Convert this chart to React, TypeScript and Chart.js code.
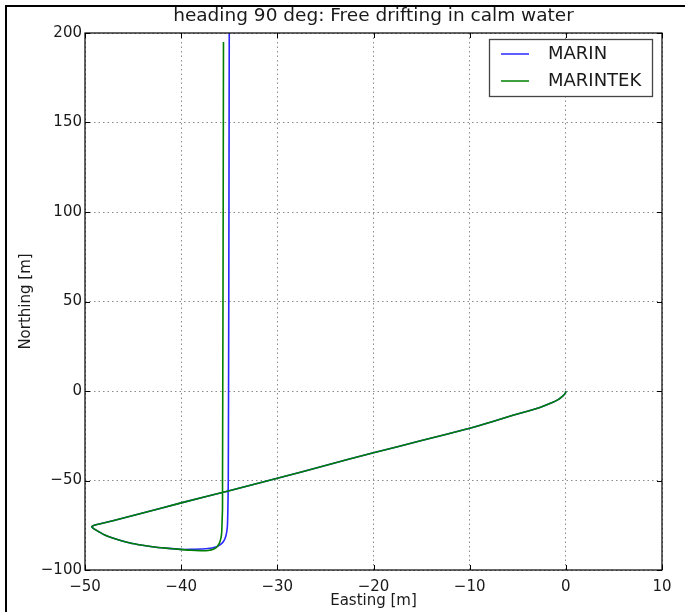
import React, { useEffect, useRef } from "react";
import { Chart, registerables } from "chart.js";

Chart.register(...registerables);

const TITLE = "heading 90 deg: Free drifting in calm water";
const X_LABEL = "Easting [m]";
const Y_LABEL = "Northing [m]";
const SERIES_NAMES = ["MARIN", "MARINTEK"];
const SERIES_COLORS = ["rgb(40,40,255)", "rgb(0,128,0)"];
const X_TICKS = [-50, -40, -30, -20, -10, 0, 10];
const Y_TICKS = [-100, -50, 0, 50, 100, 150, 200];

// Common part of both tracks: from the release point down the diagonal,
// round the western tip and back east along the southern edge.
const SHARED_E = [
  0, -0.05, -0.3, -0.8, -1.6, -2.7, -4, -5.5, -7.5, -10, -15, -20, -25, -30, -35, -40,
  -44, -47, -48.5, -49.1, -49.3, -49.1, -48.6, -48.0, -47.2, -46.3, -45.3, -44.2, -43.0, -41.6, -40.1,
];
const SHARED_N = [
  0, -1.2, -2.7, -4.8, -6.9, -9.2, -11.3, -13.6, -16.9, -20.8, -27.7, -34.5, -41.6, -48.8, -55.7, -62.5,
  -68.2, -72.3, -74.3, -75.1, -75.9, -76.9, -78.5, -80.3, -82.0, -83.5, -84.9, -86.0, -87.0, -87.8, -88.5,
];

// MARIN: final turn and northward drift
const MARIN_E = [-39, -38, -37.2, -36.5, -36, -35.6, -35.35, -35.2, -35.15, -35.1, -35.05, -35.0];
const MARIN_N = [-88.5, -88.3, -88.0, -87.3, -86.1, -84.1, -81, -76, -68, -50, 50, 200];

// MARINTEK: final turn and northward drift
const MARINTEK_E = [-39, -38, -37.2, -36.6, -36.2, -35.95, -35.8, -35.75, -35.7, -35.7, -35.65, -35.6];
const MARINTEK_N = [-89.0, -89.2, -89.1, -88.3, -86.6, -84, -80, -74, -65, -50, 50, 195];

const FONT = "'DejaVu Sans', sans-serif";
const TEXT_COLOR = "#1a1a1a";

function track(e: number[], n: number[]) {
  const pts = SHARED_E.map((x, i) => ({ x, y: SHARED_N[i] }));
  return pts.concat(e.map((x, i) => ({ x, y: n[i] })));
}

const minus = (v: number) => String(v).replace("-", "\u2212");

// Page frame, title, axes frame, inward tick marks and the legend box
const framePlugin = {
  id: "frameAndLegend",
  beforeDraw(chart: any) {
    const { ctx, width, height } = chart;
    ctx.save();
    ctx.fillStyle = "#fff";
    ctx.fillRect(0, 0, width, height);
    ctx.fillStyle = "#000";
    ctx.fillRect(5, 5, width - 5, 2);
    ctx.fillRect(5, 5, 2, height - 5);
    ctx.restore();
  },
  afterDatasetsDraw(chart: any) {
    const { ctx, chartArea: a, scales } = chart;
    const xs = scales.x;
    const ys = scales.y;
    ctx.save();

    ctx.fillStyle = TEXT_COLOR;
    ctx.font = `18.5px ${FONT}`;
    ctx.textAlign = "center";
    ctx.textBaseline = "alphabetic";
    ctx.fillText(TITLE, (a.left + a.right) / 2, 21);

    ctx.strokeStyle = "#000";
    ctx.lineWidth = 1.2;
    ctx.strokeRect(a.left, a.top, a.right - a.left, a.bottom - a.top);

    const tl = 5;
    ctx.lineWidth = 1;
    ctx.beginPath();
    X_TICKS.forEach((v) => {
      const px = Math.round(xs.getPixelForValue(v)) + 0.5;
      ctx.moveTo(px, a.bottom);
      ctx.lineTo(px, a.bottom - tl);
      ctx.moveTo(px, a.top);
      ctx.lineTo(px, a.top + tl);
    });
    Y_TICKS.forEach((v) => {
      const py = Math.round(ys.getPixelForValue(v)) + 0.5;
      ctx.moveTo(a.left, py);
      ctx.lineTo(a.left + tl, py);
      ctx.moveTo(a.right, py);
      ctx.lineTo(a.right - tl, py);
    });
    ctx.stroke();

    // legend
    const bx = 489.5;
    const by = 39.5;
    const bw = 163;
    const bh = 57;
    ctx.fillStyle = "#fff";
    ctx.fillRect(bx, by, bw, bh);
    ctx.strokeStyle = "#444";
    ctx.lineWidth = 1.3;
    ctx.strokeRect(bx, by, bw, bh);
    const rows = [54, 81];
    SERIES_NAMES.forEach((name, i) => {
      ctx.strokeStyle = SERIES_COLORS[i];
      ctx.lineWidth = 1.5;
      ctx.beginPath();
      ctx.moveTo(501, rows[i]);
      ctx.lineTo(529, rows[i]);
      ctx.stroke();
      ctx.fillStyle = TEXT_COLOR;
      ctx.font = `18px ${FONT}`;
      ctx.textAlign = "left";
      ctx.textBaseline = "middle";
      ctx.fillText(name, 548, rows[i]);
    });
    ctx.restore();
  },
};

export default function App() {
  const canvasRef = useRef<HTMLCanvasElement | null>(null);

  useEffect(() => {
    const canvas = canvasRef.current;
    if (!canvas) return;
    const prevMargin = document.body.style.margin;
    document.body.style.margin = "0";
    const chart = new Chart(canvas, {
      type: "scatter",
      data: {
        datasets: [
          {
            label: SERIES_NAMES[0],
            data: track(MARIN_E, MARIN_N),
            borderColor: SERIES_COLORS[0],
            backgroundColor: SERIES_COLORS[0],
            borderWidth: 1.6,
            showLine: true,
            pointRadius: 0,
            tension: 0.2,
            order: 1,
          },
          {
            label: SERIES_NAMES[1],
            data: track(MARINTEK_E, MARINTEK_N),
            borderColor: SERIES_COLORS[1],
            backgroundColor: SERIES_COLORS[1],
            borderWidth: 1.6,
            showLine: true,
            pointRadius: 0,
            tension: 0.2,
            order: 0,
          },
        ],
      },
      options: {
        responsive: false,
        animation: false,
        devicePixelRatio: 1,
        layout: { padding: { left: 8, right: 23, top: 33, bottom: 0 }, autoPadding: false },
        plugins: {
          legend: { display: false },
          tooltip: { enabled: false },
          title: { display: false },
        },
        scales: {
          x: {
            type: "linear",
            min: X_TICKS[0],
            max: X_TICKS[X_TICKS.length - 1],
            afterBuildTicks: (s: any) => {
              s.ticks = X_TICKS.map((value) => ({ value }));
            },
            afterFit: (s: any) => {
              s.height = 42;
            },
            ticks: {
              color: TEXT_COLOR,
              font: { family: FONT, size: 15 },
              padding: 8,
              maxRotation: 0,
              callback: (v: any) => minus(v),
            },
            grid: { color: "#8a8a8a", lineWidth: 1, drawTicks: false },
            border: { display: false, dash: [1.5, 3] },
            title: {
              display: true,
              text: X_LABEL,
              color: TEXT_COLOR,
              font: { family: FONT, size: 15 },
              padding: { top: 0, bottom: 2 },
            },
          },
          y: {
            type: "linear",
            min: Y_TICKS[0],
            max: Y_TICKS[Y_TICKS.length - 1],
            afterBuildTicks: (s: any) => {
              s.ticks = Y_TICKS.map((value) => ({ value }));
            },
            afterFit: (s: any) => {
              s.width = 77;
            },
            ticks: {
              color: TEXT_COLOR,
              font: { family: FONT, size: 15 },
              padding: 3,
              callback: (v: any) => minus(v),
            },
            grid: { color: "#8a8a8a", lineWidth: 1, drawTicks: false },
            border: { display: false, dash: [1.5, 3] },
            title: {
              display: true,
              text: Y_LABEL,
              color: TEXT_COLOR,
              font: { family: FONT, size: 15 },
              padding: { top: 9, bottom: 0 },
            },
          },
        },
      },
      plugins: [framePlugin],
    });
    return () => {
      chart.destroy();
      document.body.style.margin = prevMargin;
    };
  }, []);

  return (
    <div style={{ width: 685, height: 612, overflow: "hidden" }}>
      <canvas ref={canvasRef} width={685} height={612} style={{ display: "block", width: 685, height: 612 }} />
    </div>
  );
}
